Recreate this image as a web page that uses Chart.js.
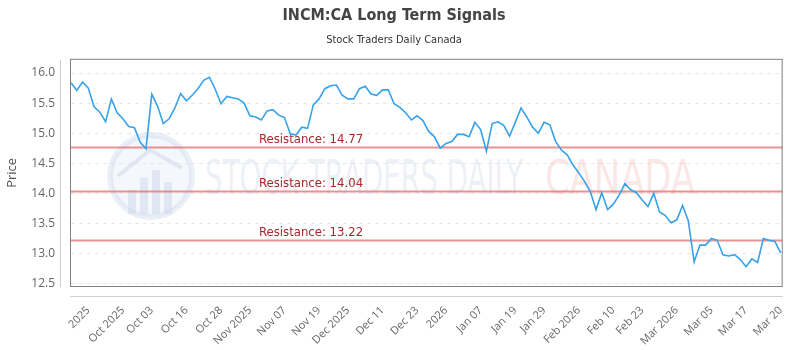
<!DOCTYPE html>
<html>
<head>
<meta charset="utf-8">
<script src="https://cdn.jsdelivr.net/npm/chart.js@4.4.1/dist/chart.umd.min.js"></script>
<style>
  html, body { margin: 0; padding: 0; background: #fff; }
  #wrap { width: 800px; height: 350px; }
</style>
</head>
<body>
<div id="wrap"><canvas id="chart" width="800" height="350"></canvas></div>
<script>
// closing prices, one per plotted session
const prices = [
  15.84, 15.71, 15.85, 15.75, 15.44, 15.35, 15.19, 15.57, 15.34, 15.24,
  15.11, 15.09, 14.85, 14.74, 15.65, 15.45, 15.16, 15.24, 15.42, 15.66,
  15.54, 15.63, 15.74, 15.88, 15.93, 15.73, 15.49, 15.61, 15.59, 15.57,
  15.50, 15.29, 15.27, 15.22, 15.37, 15.39, 15.30, 15.26, 14.99, 14.97,
  15.10, 15.08, 15.47, 15.57, 15.74, 15.79, 15.80, 15.63, 15.57, 15.57,
  15.74, 15.78, 15.65, 15.63, 15.72, 15.72, 15.49, 15.43, 15.34, 15.22,
  15.29, 15.21, 15.03, 14.94, 14.75, 14.83, 14.86, 14.98, 14.98, 14.94,
  15.18, 15.06, 14.70, 15.16, 15.19, 15.13, 14.95, 15.18, 15.42, 15.27,
  15.10, 15.00, 15.18, 15.14, 14.86, 14.72, 14.64, 14.47, 14.34, 14.20,
  14.03, 13.73, 14.01, 13.73, 13.82, 13.97, 14.16, 14.06, 14.01, 13.89,
  13.78, 14.00, 13.69, 13.63, 13.51, 13.56, 13.80, 13.54, 12.86, 13.14,
  13.14, 13.25, 13.22, 12.98, 12.96, 12.98, 12.90, 12.78, 12.91, 12.85,
  13.25, 13.22, 13.20, 13.01
];

// x tick labels and the session index each one sits on
const tickLabels = [
  "2025", "Oct 2025", "Oct 03", "Oct 16", "Oct 28", "Nov 2025", "Nov 07", "Nov 19",
  "Dec 2025", "Dec 11", "Dec 23", "2026", "Jan 07", "Jan 19", "Jan 29", "Feb 2026",
  "Feb 10", "Feb 23", "Mar 2026", "Mar 05", "Mar 17", "Mar 20"
];
const tickIdx = [3, 9, 14, 20, 26, 31, 37, 43, 48, 54, 60, 65, 71, 77, 82, 88, 94, 99, 105, 111, 117, 123];

const resistance = [14.77, 14.04, 13.22];

const labels = prices.map(() => "");
tickIdx.forEach((i, k) => { labels[i] = tickLabels[k]; });

const narrow = '"Liberation Sans Narrow", "DejaVu Sans Condensed", sans-serif';
const sans = '"Open Sans", sans-serif';

function fitText(ctx, text, x, y, w) {
  const m = ctx.measureText(text).width;
  ctx.save();
  ctx.translate(x, y);
  ctx.scale(w / m, 1);
  ctx.fillText(text, 0, 0);
  ctx.restore();
}

const decor = {
  id: "decor",
  beforeDatasetsDraw(chart) {
    const { ctx, chartArea: a, scales } = chart;
    ctx.save();

    // watermark logo
    ctx.beginPath();
    ctx.arc(151, 176, 41, 0, Math.PI * 2);
    ctx.fillStyle = "rgba(228,234,245,0.4)";
    ctx.fill();
    ctx.lineWidth = 6;
    ctx.strokeStyle = "rgba(205,216,234,0.4)";
    ctx.stroke();
    ctx.fillStyle = "rgba(200,212,232,0.45)";
    [[128, 190, 8, 24], [140, 178, 8, 36], [152, 170, 8, 44], [164, 182, 8, 32]].forEach(b => ctx.fillRect(b[0], b[1], b[2], b[3]));
    ctx.beginPath();
    ctx.moveTo(118, 176); ctx.lineTo(150, 150); ctx.lineTo(182, 168);
    ctx.lineWidth = 4; ctx.strokeStyle = "rgba(200,212,232,0.45)"; ctx.stroke();

    ctx.textBaseline = "alphabetic";
    ctx.font = "48px " + narrow;
    ctx.fillStyle = "rgba(208,218,232,0.38)";
    fitText(ctx, "STOCK TRADERS DAILY", 205, 194, 318);
    ctx.fillStyle = "rgba(245,170,170,0.28)";
    fitText(ctx, "CANADA", 545, 194, 150);

    // resistance lines
    const y = scales.y;
    ctx.font = "13px " + narrow;
    resistance.forEach(v => {
      const py = Math.round(y.getPixelForValue(v)) + 0.5;
      ctx.beginPath();
      ctx.moveTo(a.left, py);
      ctx.lineTo(a.right + 2, py);
      ctx.lineWidth = 2;
      ctx.strokeStyle = "rgba(226,110,110,0.75)";
      ctx.stroke();
      ctx.fillStyle = "#a8282c";
      ctx.textAlign = "left";
      ctx.fillText("Resistance: " + v.toFixed(2), 259, py - 5);
    });
    ctx.restore();
  },
  afterDraw(chart) {
    const { ctx, chartArea: a } = chart;
    ctx.save();
    ctx.lineWidth = 1;
    ctx.strokeStyle = "#808080";
    ctx.strokeRect(a.left - 0.5, a.top - 0.5, a.right - a.left + 2, a.bottom - a.top + 1);
    ctx.strokeStyle = "#cfcfcf";
    ctx.beginPath();
    ctx.moveTo(a.left - 10.5, a.top);
    ctx.lineTo(a.left - 10.5, a.bottom + 1);
    ctx.moveTo(a.left - 1, a.bottom + 10.5);
    ctx.lineTo(a.right + 2, a.bottom + 10.5);
    ctx.stroke();
    ctx.restore();
  }
};

new Chart(document.getElementById("chart"), {
  type: "line",
  data: {
    labels,
    datasets: [{
      data: prices,
      borderColor: "#35a2eb",
      borderWidth: 1.6,
      pointRadius: 0,
      tension: 0,
      fill: false
    }]
  },
  options: {
    responsive: false,
    animation: false,
    layout: { padding: { left: 0, right: 12, top: 0, bottom: 0 } },
    plugins: {
      legend: { display: false },
      tooltip: { enabled: false },
      title: {
        display: true,
        text: "INCM:CA Long Term Signals",
        color: "#444",
        font: { family: narrow, size: 16, weight: "bold" },
        padding: { top: 6, bottom: 4 }
      },
      subtitle: {
        display: true,
        text: "Stock Traders Daily Canada",
        color: "#333",
        font: { family: narrow, size: 11 },
        padding: { top: 4, bottom: 13.4 }
      }
    },
    scales: {
      x: {
        grid: { display: false },
        border: { display: false },
        afterFit: s => { s.height = 64; },
        ticks: {
          autoSkip: false,
          maxRotation: 45,
          minRotation: 45,
          padding: 10,
          color: "#666",
          font: { family: sans, size: 11 }
        }
      },
      y: {
        min: 12.46,
        max: 16.22,
        afterFit: s => { s.width = 71; },
        border: { display: false, dash: [4, 4] },
        grid: { color: "#e8e8e8", drawTicks: false },
        title: {
          display: true,
          text: "Price",
          color: "#555",
          font: { family: sans, size: 13 },
          padding: { top: 4, bottom: 0 }
        },
        ticks: {
          stepSize: 0.5,
          includeBounds: false,
          padding: 16,
          color: "#666",
          font: { family: sans, size: 12 },
          callback: v => v.toFixed(1)
        }
      }
    }
  },
  plugins: [decor]
});
</script>
</body>
</html>
